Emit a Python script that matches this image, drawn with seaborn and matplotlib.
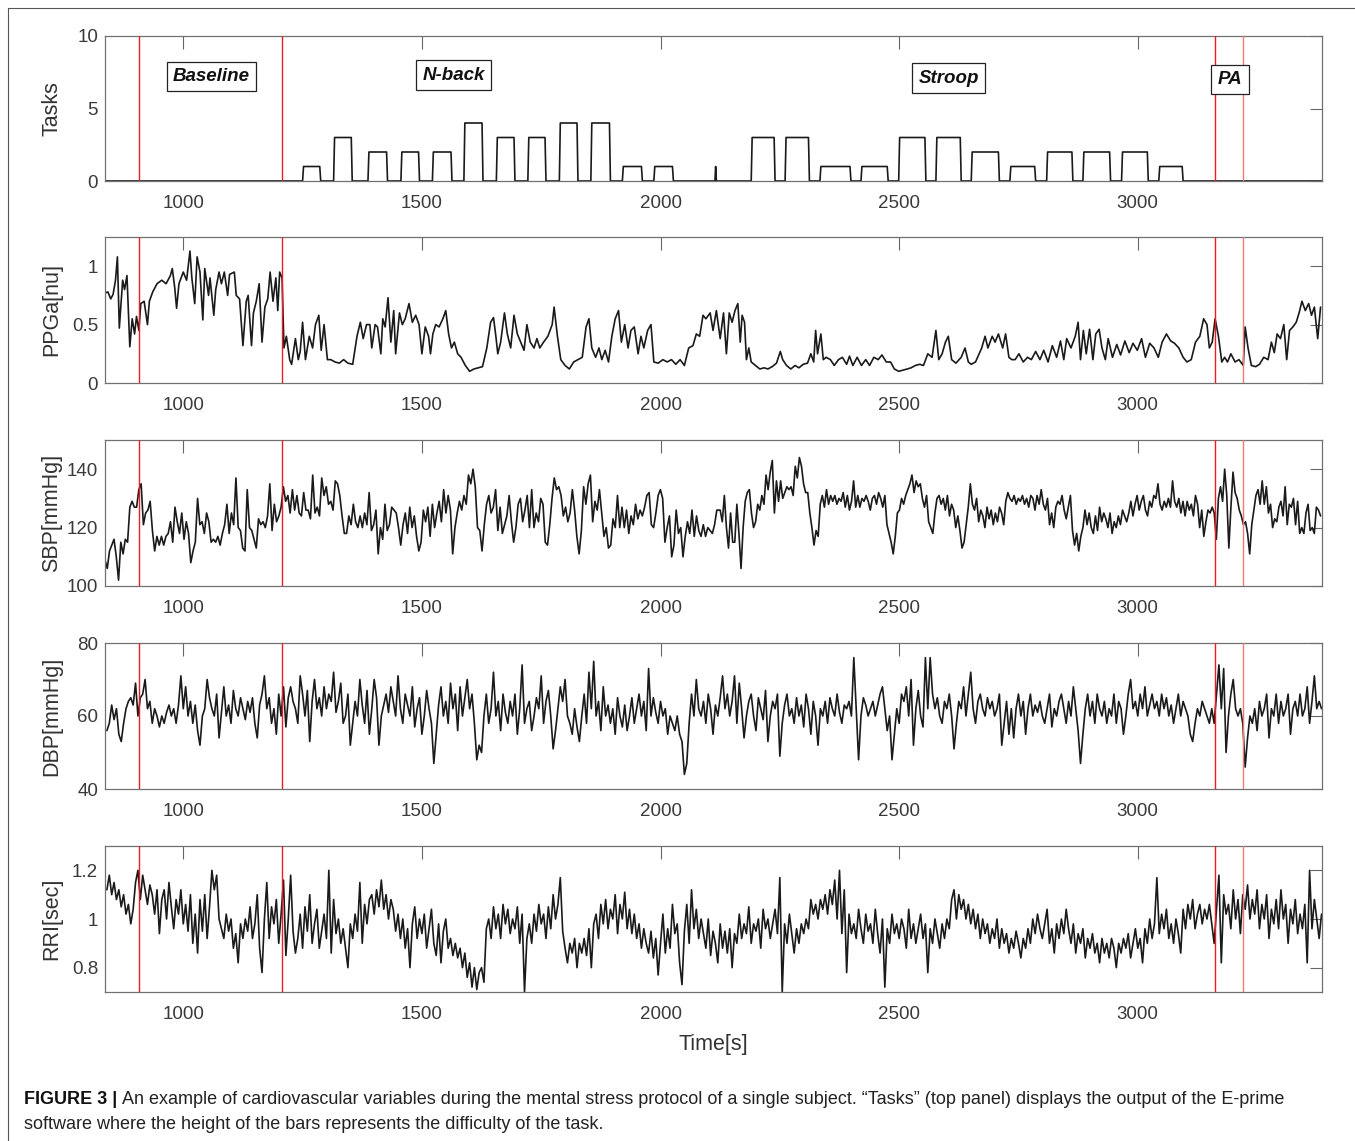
import numpy as np
import matplotlib
matplotlib.use("Agg")
import matplotlib.pyplot as plt
from matplotlib.lines import Line2D
from matplotlib import font_manager
import seaborn as sns

# ---- dati ----
x_range = (836, 3386)
event_times = [908, 1207, 3161, 3221]

# blocchi dei task (inizio, fine, difficolta')
task_start = [1250, 1315, 1387, 1456, 1522, 1588, 1656, 1722, 1788, 1854, 1920, 1986, 2114,
              2190, 2261, 2334, 2420, 2499, 2577, 2651, 2732, 2809, 2885, 2966, 3044]
task_end = [1288, 1354, 1428, 1495, 1563, 1628, 1695, 1760, 1827, 1895, 1962, 2027, 2117,
            2240, 2312, 2399, 2477, 2556, 2630, 2710, 2786, 2864, 2943, 3022, 3095]
task_level = [1, 3, 2, 2, 2, 4, 3, 3, 4, 4, 1, 1, 1,
              3, 3, 1, 1, 3, 3, 2, 1, 2, 2, 2, 1]
task_names = ["Baseline", "N-back", "Stroop", "PA"]
task_label_x = [1059, 1566, 2604, 3193]
task_label_y = [7.2, 7.3, 7.1, 7.0]

ppg_t = [836, 842, 848, 853, 858, 862, 866, 873, 877, 882, 888, 893, 898, 902, 907, 911, 918, 925, 929, 936,
         945, 955, 964, 973, 977, 982, 986, 991, 1000, 1007, 1014, 1018, 1024, 1029, 1035, 1041, 1045, 1053,
         1056, 1064, 1068, 1075, 1080, 1086, 1093, 1097, 1107, 1111, 1118, 1125, 1132, 1136, 1143, 1147, 1153,
         1159, 1165, 1171, 1177, 1182, 1188, 1194, 1198, 1202, 1207, 1211, 1216, 1223, 1227, 1235, 1241, 1245,
         1250, 1256, 1264, 1271, 1277, 1284, 1289, 1295, 1302, 1309, 1318, 1327, 1336, 1345, 1355, 1364, 1371,
         1377, 1384, 1391, 1395, 1402, 1407, 1414, 1418, 1423, 1429, 1435, 1441, 1445, 1453, 1459, 1465, 1473,
         1480, 1487, 1494, 1500, 1507, 1514, 1518, 1523, 1529, 1536, 1544, 1550, 1556, 1562, 1568, 1575, 1582,
         1591, 1600, 1609, 1618, 1627, 1636, 1644, 1650, 1655, 1659, 1665, 1673, 1679, 1686, 1693, 1700, 1707,
         1714, 1720, 1727, 1735, 1741, 1747, 1755, 1764, 1773, 1777, 1784, 1791, 1800, 1809, 1818, 1827, 1836,
         1844, 1850, 1856, 1864, 1871, 1877, 1884, 1891, 1898, 1905, 1912, 1918, 1925, 1932, 1938, 1945, 1953,
         1959, 1965, 1973, 1980, 1986, 1995, 2005, 2014, 2023, 2032, 2041, 2050, 2059, 2068, 2075, 2082, 2089,
         2095, 2104, 2110, 2117, 2125, 2132, 2138, 2144, 2150, 2156, 2162, 2167, 2171, 2176, 2180, 2185, 2190,
         2199, 2208, 2217, 2225, 2234, 2243, 2251, 2256, 2264, 2273, 2282, 2290, 2299, 2308, 2315, 2321, 2325,
         2329, 2336, 2341, 2347, 2356, 2364, 2373, 2381, 2390, 2396, 2403, 2412, 2421, 2430, 2438, 2447, 2456,
         2464, 2473, 2482, 2490, 2499, 2508, 2517, 2525, 2534, 2543, 2551, 2560, 2569, 2577, 2583, 2590, 2597,
         2603, 2610, 2619, 2630, 2638, 2645, 2651, 2660, 2673, 2680, 2686, 2695, 2701, 2708, 2717, 2723, 2730,
         2736, 2743, 2751, 2760, 2769, 2777, 2786, 2795, 2803, 2812, 2821, 2830, 2838, 2845, 2851, 2860, 2869,
         2875, 2880, 2886, 2892, 2899, 2906, 2912, 2919, 2925, 2932, 2938, 2947, 2956, 2964, 2973, 2982, 2990,
         2999, 3008, 3016, 3025, 3034, 3043, 3051, 3060, 3069, 3077, 3086, 3095, 3103, 3112, 3121, 3130, 3138,
         3145, 3150, 3156, 3162, 3169, 3176, 3182, 3188, 3195, 3204, 3212, 3221, 3225, 3231, 3238, 3247, 3255,
         3264, 3273, 3280, 3286, 3292, 3299, 3306, 3312, 3318, 3325, 3332, 3338, 3344, 3351, 3358, 3364, 3370,
         3377, 3383]
ppg_v = [0.77, 0.78, 0.72, 0.76, 0.88, 1.08, 0.47, 0.88, 0.80, 0.92, 0.31, 0.55, 0.42, 0.57, 0.45, 0.68, 0.70,
         0.50, 0.70, 0.78, 0.85, 0.88, 0.85, 0.92, 0.98, 0.82, 0.64, 0.85, 0.95, 0.88, 1.13, 0.90, 0.68, 1.08,
         0.95, 0.54, 0.98, 0.75, 0.90, 0.58, 0.80, 0.95, 0.85, 0.95, 0.75, 0.93, 0.95, 0.75, 0.72, 0.32, 0.70,
         0.75, 0.32, 0.60, 0.70, 0.85, 0.35, 0.65, 0.72, 0.95, 0.70, 0.90, 0.62, 0.95, 0.90, 0.30, 0.40, 0.20,
         0.16, 0.38, 0.20, 0.27, 0.52, 0.20, 0.40, 0.30, 0.50, 0.58, 0.28, 0.50, 0.20, 0.20, 0.18, 0.17, 0.20,
         0.17, 0.16, 0.40, 0.52, 0.38, 0.50, 0.50, 0.30, 0.50, 0.48, 0.25, 0.55, 0.48, 0.73, 0.35, 0.62, 0.25,
         0.60, 0.50, 0.55, 0.68, 0.52, 0.58, 0.50, 0.25, 0.48, 0.40, 0.25, 0.42, 0.50, 0.48, 0.55, 0.62, 0.42,
         0.30, 0.35, 0.25, 0.22, 0.15, 0.10, 0.12, 0.13, 0.14, 0.30, 0.52, 0.56, 0.40, 0.25, 0.35, 0.60, 0.42,
         0.30, 0.58, 0.42, 0.35, 0.28, 0.50, 0.35, 0.30, 0.38, 0.30, 0.35, 0.40, 0.50, 0.65, 0.40, 0.20, 0.15,
         0.12, 0.18, 0.20, 0.22, 0.48, 0.55, 0.30, 0.22, 0.30, 0.20, 0.28, 0.18, 0.40, 0.55, 0.62, 0.35, 0.50,
         0.30, 0.45, 0.48, 0.25, 0.40, 0.30, 0.45, 0.50, 0.18, 0.17, 0.20, 0.18, 0.20, 0.16, 0.20, 0.15, 0.30,
         0.32, 0.42, 0.40, 0.58, 0.55, 0.60, 0.45, 0.62, 0.38, 0.60, 0.25, 0.60, 0.52, 0.62, 0.68, 0.35, 0.58,
         0.52, 0.20, 0.30, 0.18, 0.15, 0.12, 0.13, 0.12, 0.14, 0.17, 0.27, 0.20, 0.15, 0.12, 0.15, 0.13, 0.16,
         0.17, 0.25, 0.18, 0.45, 0.25, 0.42, 0.20, 0.22, 0.20, 0.15, 0.20, 0.22, 0.16, 0.23, 0.15, 0.22, 0.15,
         0.20, 0.15, 0.22, 0.20, 0.24, 0.18, 0.18, 0.12, 0.10, 0.11, 0.12, 0.13, 0.15, 0.16, 0.15, 0.25, 0.22,
         0.45, 0.20, 0.25, 0.35, 0.40, 0.20, 0.17, 0.22, 0.30, 0.18, 0.16, 0.18, 0.30, 0.40, 0.30, 0.40, 0.35,
         0.42, 0.30, 0.42, 0.22, 0.20, 0.20, 0.25, 0.18, 0.22, 0.20, 0.27, 0.20, 0.28, 0.18, 0.32, 0.22, 0.36,
         0.20, 0.38, 0.30, 0.40, 0.52, 0.20, 0.45, 0.25, 0.46, 0.20, 0.42, 0.46, 0.30, 0.20, 0.38, 0.22, 0.33,
         0.24, 0.36, 0.26, 0.34, 0.28, 0.38, 0.22, 0.34, 0.30, 0.22, 0.35, 0.42, 0.36, 0.34, 0.30, 0.22, 0.18,
         0.20, 0.35, 0.40, 0.55, 0.50, 0.30, 0.35, 0.55, 0.40, 0.18, 0.22, 0.18, 0.25, 0.18, 0.20, 0.15, 0.48,
         0.30, 0.15, 0.14, 0.16, 0.22, 0.20, 0.35, 0.26, 0.42, 0.38, 0.50, 0.20, 0.45, 0.48, 0.52, 0.60, 0.70,
         0.62, 0.68, 0.58, 0.65, 0.38, 0.65]

# SBP: due tratti letti da sinistra a destra
sbp_left_span = (836, 2118)
sbp_left = [109, 106, 112, 114, 116, 110, 102, 115, 111, 116, 115, 127, 129, 127, 127, 133, 135, 121, 125, 126,
            129, 119, 112, 117, 114, 117, 114, 117, 118, 122, 115, 127, 122, 118, 125, 116, 122, 118, 108, 112,
            115, 130, 121, 122, 118, 125, 122, 115, 116, 115, 117, 114, 118, 121, 128, 118, 125, 121, 137, 120,
            119, 113, 112, 133, 120, 119, 116, 113, 123, 121, 122, 120, 124, 135, 119, 128, 122, 124, 127, 134,
            129, 131, 125, 133, 126, 131, 125, 124, 132, 126, 126, 123, 138, 125, 127, 124, 137, 131, 134, 128,
            129, 126, 136, 135, 131, 124, 118, 118, 124, 121, 128, 122, 120, 124, 120, 125, 121, 132, 119, 121,
            126, 111, 120, 116, 128, 119, 121, 127, 126, 125, 120, 114, 121, 125, 118, 127, 120, 124, 117, 112,
            115, 126, 122, 127, 117, 128, 120, 125, 129, 122, 133, 125, 131, 126, 111, 120, 125, 129, 126, 131,
            128, 138, 135, 140, 134, 120, 119, 112, 121, 128, 131, 125, 127, 133, 119, 127, 118, 121, 124, 131,
            122, 115, 120, 128, 130, 122, 126, 131, 120, 133, 120, 125, 122, 130, 128, 115, 114, 121, 130, 137,
            133, 134, 131, 124, 127, 122, 125, 133, 126, 117, 111, 119, 134, 128, 135, 138, 122, 129, 126, 133,
            125, 117, 120, 113, 114, 123, 120, 131, 120, 127, 120, 126, 118, 124, 121, 128, 123, 126, 124, 127,
            131, 132, 121, 120, 125, 131, 133, 130, 115, 120, 124, 110, 114, 126, 118, 120, 110, 117, 122, 118,
            126, 117, 124, 119, 117, 121, 117, 120, 119, 118, 121, 126]
sbp_right_span = (2125, 3383)
sbp_right = [126, 122, 131, 120, 113, 125, 115, 115, 128, 118, 106, 120, 129, 132, 133, 125, 120, 122, 128, 126,
             131, 128, 138, 133, 139, 143, 125, 136, 129, 136, 130, 132, 134, 133, 134, 131, 141, 137, 144, 141,
             135, 132, 132, 125, 120, 114, 119, 117, 128, 131, 127, 133, 128, 131, 129, 131, 128, 130, 129, 132,
             127, 131, 126, 129, 136, 127, 131, 127, 130, 129, 131, 129, 126, 130, 131, 128, 132, 130, 127, 131,
             121, 118, 115, 111, 117, 125, 126, 130, 128, 131, 133, 135, 138, 132, 136, 134, 135, 130, 127, 131,
             122, 120, 118, 125, 130, 131, 128, 130, 126, 131, 124, 128, 126, 120, 124, 119, 113, 115, 121, 127,
             135, 128, 126, 130, 122, 126, 124, 120, 127, 123, 126, 121, 125, 122, 127, 125, 121, 129, 132, 130,
             129, 131, 128, 130, 129, 131, 128, 130, 127, 131, 130, 126, 131, 128, 133, 128, 126, 130, 121, 125,
             120, 127, 129, 128, 131, 126, 123, 127, 131, 119, 114, 118, 112, 117, 120, 126, 121, 125, 120, 118,
             124, 119, 127, 122, 125, 123, 120, 125, 118, 122, 120, 124, 121, 126, 124, 122, 125, 129, 124, 128,
             131, 126, 129, 131, 126, 124, 129, 127, 131, 130, 135, 128, 126, 129, 127, 130, 127, 136, 129, 127,
             130, 125, 129, 124, 129, 126, 128, 124, 131, 128, 120, 126, 117, 122, 126, 125, 127, 125, 116, 130,
             134, 129, 140, 131, 113, 127, 139, 132, 130, 126, 124, 121, 122, 118, 111, 121, 126, 131, 133, 128,
             136, 128, 134, 125, 128, 120, 123, 122, 127, 129, 124, 134, 121, 128, 127, 130, 121, 129, 118, 120,
             118, 125, 128, 119, 120, 118, 127, 126, 124]

# DBP e RRI: un valore ogni 5 s a partire da 840 s
grid_start = 840
grid_step = 5
dbp = [56, 58, 63, 59, 62, 55, 53, 58, 62, 64, 65, 63, 69, 60, 65, 66, 70, 62, 64, 58,
       62, 60, 57, 60, 58, 61, 63, 60, 62, 58, 63, 71, 62, 68, 60, 64, 58, 63, 56, 52,
       60, 62, 70, 65, 62, 60, 66, 54, 61, 68, 60, 63, 58, 67, 62, 60, 65, 62, 59, 64,
       61, 65, 58, 54, 63, 66, 71, 62, 65, 58, 62, 55, 66, 60, 68, 57, 65, 68, 64, 62,
       58, 71, 66, 60, 67, 53, 64, 70, 62, 65, 60, 68, 62, 66, 64, 72, 61, 64, 69, 58,
       60, 66, 52, 58, 64, 60, 70, 63, 58, 67, 55, 62, 70, 65, 52, 60, 63, 66, 61, 68,
       64, 60, 71, 62, 58, 66, 63, 60, 68, 57, 62, 65, 55, 60, 67, 62, 58, 47, 55, 63,
       68, 60, 64, 58, 69, 62, 66, 56, 68, 60, 65, 70, 62, 66, 58, 48, 52, 50, 60, 66,
       58, 62, 72, 60, 64, 56, 66, 61, 58, 64, 60, 66, 55, 62, 74, 58, 62, 64, 56, 60,
       65, 62, 71, 58, 64, 67, 60, 51, 56, 62, 68, 64, 70, 60, 58, 55, 62, 57, 53, 60,
       66, 58, 72, 62, 75, 60, 64, 56, 68, 60, 63, 58, 62, 55, 65, 60, 57, 63, 56, 60,
       65, 58, 62, 66, 60, 64, 56, 73, 60, 65, 61, 58, 64, 60, 62, 55, 60, 58, 56, 60,
       55, 53, 44, 47, 58, 66, 60, 70, 62, 60, 64, 58, 66, 62, 55, 63, 60, 65, 71, 62,
       66, 60, 64, 71, 58, 69, 62, 54, 60, 64, 66, 60, 56, 65, 62, 59, 67, 53, 60, 64,
       62, 66, 49, 58, 63, 66, 60, 62, 58, 65, 60, 63, 57, 66, 62, 55, 64, 60, 52, 62,
       60, 64, 58, 65, 62, 60, 66, 61, 58, 63, 62, 64, 60, 76, 62, 48, 60, 65, 63, 60,
       62, 64, 60, 63, 66, 68, 62, 56, 60, 48, 55, 62, 58, 66, 64, 68, 60, 70, 52, 62,
       67, 60, 57, 76, 62, 76, 66, 62, 65, 60, 58, 64, 62, 66, 60, 51, 58, 64, 62, 68,
       60, 66, 72, 62, 58, 64, 66, 62, 60, 65, 62, 64, 60, 62, 66, 52, 58, 64, 55, 62,
       54, 62, 66, 60, 64, 55, 62, 66, 60, 63, 61, 64, 60, 58, 62, 66, 57, 62, 60, 64,
       66, 62, 58, 64, 60, 68, 62, 56, 47, 55, 62, 66, 60, 64, 58, 66, 62, 60, 64, 58,
       62, 60, 66, 58, 64, 62, 55, 60, 66, 70, 62, 64, 60, 66, 62, 68, 60, 63, 66, 62,
       64, 60, 66, 62, 65, 60, 63, 58, 62, 66, 60, 64, 62, 60, 55, 53, 58, 62, 60, 64,
       62, 60, 58, 62, 58, 66, 74, 62, 73, 50, 60, 66, 70, 62, 60, 62, 58, 46, 54, 60,
       58, 62, 56, 64, 60, 62, 66, 54, 62, 60, 66, 58, 64, 60, 62, 66, 55, 62, 64, 60,
       66, 60, 62, 68, 58, 64, 71, 62, 64, 62]
rri = [1.12, 1.18, 1.10, 1.15, 1.08, 1.12, 1.05, 1.10, 1.02, 1.06, 0.98, 1.04, 1.15, 1.20, 1.08, 1.18, 1.12, 1.06, 1.14, 1.10,
       1.02, 1.12, 0.94, 1.08, 1.12, 1.00, 1.15, 1.05, 0.96, 1.08, 1.02, 1.12, 0.98, 1.06, 0.95, 1.10, 0.90, 1.02, 0.86, 1.08,
       0.95, 1.10, 0.92, 1.05, 1.20, 1.12, 1.18, 1.00, 0.96, 0.92, 1.02, 0.95, 1.00, 0.88, 0.94, 0.82, 0.98, 0.92, 1.00, 0.95,
       1.05, 0.92, 0.98, 1.10, 0.88, 0.78, 1.00, 1.15, 0.92, 1.05, 0.98, 1.08, 0.90, 1.02, 1.16, 0.85, 1.00, 1.18, 0.95, 0.86,
       0.92, 1.02, 0.88, 1.05, 0.95, 1.10, 0.90, 0.98, 1.04, 0.88, 0.95, 1.02, 0.92, 1.20, 0.86, 1.08, 0.94, 1.00, 0.90, 0.96,
       0.88, 0.80, 0.98, 0.92, 1.02, 0.95, 1.15, 0.90, 1.06, 0.98, 1.08, 1.10, 1.02, 1.12, 1.05, 1.16, 1.04, 1.10, 1.00, 1.08,
       1.04, 0.95, 1.02, 0.92, 1.00, 0.88, 0.96, 0.80, 0.98, 1.05, 0.92, 1.00, 0.94, 1.02, 0.88, 0.96, 1.04, 0.90, 0.85, 0.98,
       0.82, 0.95, 1.00, 0.88, 0.92, 0.85, 0.90, 0.84, 0.88, 0.80, 0.86, 0.76, 0.82, 0.72, 0.80, 0.71, 0.78, 0.80, 0.74, 0.96,
       1.00, 0.92, 1.05, 0.96, 1.02, 0.92, 1.06, 0.98, 1.04, 0.94, 1.00, 0.96, 1.05, 0.90, 1.02, 0.70, 0.92, 0.98, 0.90, 1.02,
       0.95, 1.06, 0.98, 1.02, 0.92, 1.05, 0.96, 1.10, 1.00, 1.06, 1.17, 0.95, 0.88, 0.82, 0.90, 0.86, 0.92, 0.80, 0.90, 0.86,
       0.92, 0.85, 0.96, 0.80, 0.98, 1.02, 0.92, 1.06, 0.98, 1.08, 0.96, 1.04, 1.00, 1.10, 0.94, 1.06, 1.00, 1.11, 0.96, 1.04,
       0.94, 1.02, 0.92, 0.98, 0.88, 0.96, 0.90, 0.86, 0.95, 0.84, 0.92, 0.77, 0.90, 1.02, 0.86, 0.96, 0.88, 1.06, 0.94, 0.98,
       0.82, 0.73, 0.95, 1.06, 0.90, 1.12, 0.96, 1.04, 0.92, 1.00, 0.94, 0.88, 1.00, 0.85, 0.95, 0.90, 0.82, 0.98, 0.88, 0.95,
       0.86, 0.96, 0.80, 0.94, 0.90, 1.02, 0.92, 0.98, 0.94, 1.05, 0.90, 0.98, 0.95, 1.00, 0.88, 1.04, 0.96, 1.00, 0.92, 0.98,
       1.04, 0.94, 1.17, 0.70, 0.98, 0.90, 1.02, 0.94, 0.86, 0.96, 0.90, 0.98, 0.94, 1.00, 0.96, 1.08, 1.02, 1.06, 1.00, 1.08,
       1.04, 1.10, 1.02, 1.12, 1.06, 1.16, 1.00, 1.20, 0.94, 1.12, 0.78, 1.02, 0.94, 0.98, 0.92, 1.04, 0.96, 0.90, 1.02, 0.95,
       0.98, 0.90, 1.04, 0.94, 0.86, 1.00, 0.72, 0.96, 0.90, 1.02, 0.94, 0.98, 0.92, 1.00, 0.96, 0.88, 1.04, 0.92, 0.98, 0.90,
       0.96, 1.02, 0.92, 0.98, 0.78, 0.96, 0.90, 1.00, 0.94, 0.88, 0.98, 0.92, 1.00, 0.96, 1.08, 1.12, 1.00, 1.10, 1.04, 1.08,
       1.00, 1.06, 0.98, 1.04, 0.96, 1.02, 0.92, 1.00, 0.94, 0.98, 0.90, 0.96, 0.92, 1.00, 0.88, 0.96, 0.90, 0.94, 0.86, 0.92,
       0.88, 0.95, 0.90, 0.84, 0.92, 0.88, 0.96, 0.90, 1.00, 0.94, 1.02, 0.96, 0.92, 0.98, 1.04, 0.90, 0.96, 0.86, 0.98, 0.92,
       1.00, 0.94, 1.04, 0.96, 0.90, 0.98, 0.86, 0.94, 0.90, 0.96, 0.84, 0.92, 0.88, 0.94, 0.86, 0.90, 0.82, 0.92, 0.86, 0.90,
       0.84, 0.92, 0.88, 0.80, 0.90, 0.86, 0.92, 0.88, 0.94, 0.84, 0.90, 0.96, 0.88, 0.92, 0.82, 0.96, 0.90, 1.00, 0.92, 0.98,
       1.17, 0.94, 1.02, 0.96, 1.04, 0.92, 0.98, 0.90, 1.00, 0.94, 0.86, 1.04, 0.96, 1.06, 1.00, 1.08, 0.96, 1.02, 1.06, 0.98,
       1.04, 1.00, 1.06, 0.98, 0.90, 1.04, 1.18, 0.82, 1.10, 1.02, 1.06, 0.96, 1.12, 1.00, 1.08, 0.94, 1.10, 1.04, 1.14, 1.00,
       1.08, 1.02, 1.12, 0.96, 1.06, 1.00, 1.10, 0.92, 1.04, 0.98, 1.08, 0.96, 1.12, 1.00, 1.06, 0.90, 1.04, 0.98, 1.08, 0.94,
       1.02, 0.96, 1.06, 0.82, 1.20, 0.96, 1.08, 1.00, 0.92, 1.02]

caption_bold = "FIGURE 3 | "
caption_line1 = ("An example of cardiovascular variables during the mental stress protocol of a single subject. "
                 "\u201cTasks\u201d (top panel) displays the output of the E-prime")
caption_line2 = "software where the height of the bars represents the difficulty of the task."

# ---- costruzione delle serie ----
task_x = [x_range[0]]
task_y = [0]
for s, e, lvl in zip(task_start, task_end, task_level):
    ramp = min(2.0, (e - s) / 2)
    task_x += [s, s + ramp, e - ramp, e]
    task_y += [0, lvl, lvl, 0]
task_x.append(x_range[1])
task_y.append(0)

sbp_t = np.concatenate([np.linspace(*sbp_left_span, len(sbp_left)),
                        np.linspace(*sbp_right_span, len(sbp_right))])
sbp_v = np.array(sbp_left + sbp_right)
dbp_t = grid_start + grid_step * np.arange(len(dbp))
rri_t = grid_start + grid_step * np.arange(len(rri))

series = [
    ("Tasks", task_x, task_y, (0, 10), [0, 5, 10]),
    ("PPGa[nu]", ppg_t, ppg_v, (0, 1.25), [0, 0.5, 1]),
    ("SBP[mmHg]", sbp_t, sbp_v, (100, 150), [100, 120, 140]),
    ("DBP[mmHg]", dbp_t, dbp, (40, 80), [40, 60, 80]),
    ("RRI[sec]", rri_t, rri, (0.7, 1.3), [0.8, 1, 1.2]),
]

# ---- figura ----
sns.set_theme(style="white")
plt.rcParams["font.family"] = ["Liberation Sans", "DejaVu Sans"]

W, H = 1355, 1141
fig = plt.figure(figsize=(W / 100, H / 100), dpi=100)
fig.patch.set_facecolor("white")

ax_left = 105 / W
ax_w = (1322 - 105) / W
panel_px = [(36, 181), (237, 383), (440, 586), (643, 789), (846, 992)]

axes = []
for (top, bot), (label, xs, ys, ylim, yticks) in zip(panel_px, series):
    ax = fig.add_axes([ax_left, 1 - bot / H, ax_w, (bot - top) / H])
    sns.lineplot(x=np.asarray(xs, dtype=float), y=np.asarray(ys, dtype=float), ax=ax,
                 color="#1a1a1a", lw=1.2, estimator=None, sort=False, legend=False)
    for i, t in enumerate(event_times):
        ax.axvline(t, color="#f07a7a" if i == 3 else "#ee1c24", lw=1.0, zorder=3)
    ax.set_xlim(*x_range)
    ax.set_ylim(*ylim)
    ax.set_yticks(yticks)
    ax.set_yticklabels([f"{v:g}" for v in yticks])
    ax.set_xticks([1000, 1500, 2000, 2500, 3000])
    ax.set_ylabel(label, fontsize=15.5, color="#333333")
    ax.yaxis.set_label_coords(-0.035, 0.5)
    ax.set_xlabel("")
    ax.tick_params(direction="in", length=9, width=0.8, color="#666666",
                   labelcolor="#3a3a3a", labelsize=13.5, top=True, right=True,
                   labeltop=False, labelright=False)
    ax.tick_params(axis="x", pad=10)
    ax.tick_params(axis="y", pad=5)
    for sp in ax.spines.values():
        sp.set_color("#707070")
        sp.set_linewidth(0.9)
    axes.append(ax)

axes[-1].set_xlabel("Time[s]", fontsize=15.5, color="#333333", labelpad=8)

for name, x, y in zip(task_names, task_label_x, task_label_y):
    axes[0].text(x, y, name, ha="center", va="center", fontsize=13.5,
                 fontweight="bold", fontstyle="italic", color="#111111",
                 bbox=dict(boxstyle="square,pad=0.34", fc="white", ec="#222222", lw=0.9))

# cornice esterna
fig.add_artist(Line2D([8 / W, 1], [1 - 8 / H, 1 - 8 / H], transform=fig.transFigure,
                      color="#555555", lw=0.8))
fig.add_artist(Line2D([8 / W, 8 / W], [0, 1 - 8 / H], transform=fig.transFigure,
                      color="#555555", lw=0.8))

# didascalia
names = {f.name for f in font_manager.fontManager.ttflist}
cap_family = "Liberation Sans Narrow" if "Liberation Sans Narrow" in names else "Liberation Sans"
renderer = fig.canvas.get_renderer()
x0 = 24 / W
y1 = 1 - 1104 / H
y2 = 1 - 1129 / H
size = 12
tb = fig.text(x0, y1, caption_bold, fontsize=size, fontweight="bold", family=cap_family, color="#111111")
t1 = fig.text(x0, y1, caption_line1, fontsize=size, family=cap_family, color="#222222")
wb = tb.get_window_extent(renderer).width
w1 = t1.get_window_extent(renderer).width
scale = (1290 - 24) / (wb + w1)
size = size * scale
tb.set_fontsize(size)
t1.set_fontsize(size)
wb = tb.get_window_extent(renderer).width
t1.set_x(x0 + wb / W)
fig.text(x0, y2, caption_line2, fontsize=size, family=cap_family, color="#222222")

fig.savefig("out.png", dpi=100, facecolor="white")
